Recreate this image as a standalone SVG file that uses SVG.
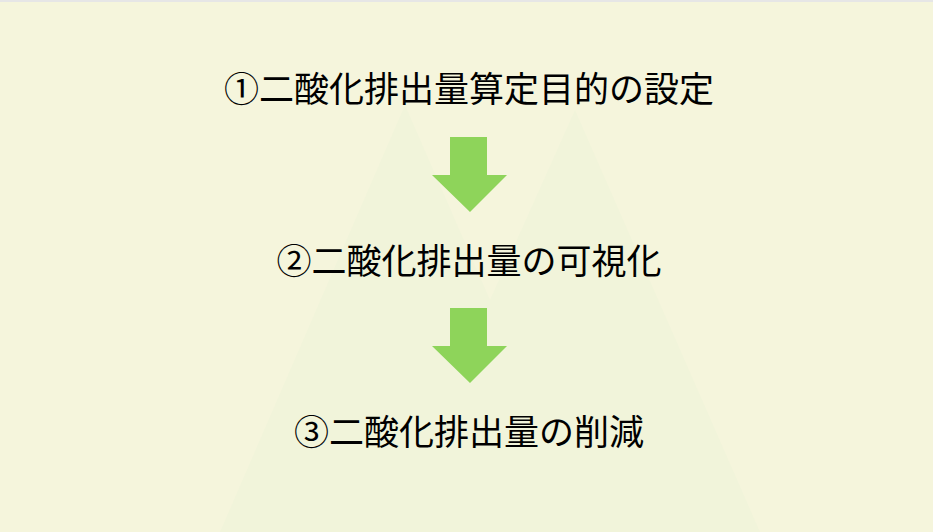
<svg xmlns="http://www.w3.org/2000/svg" width="933" height="532" viewBox="0 0 933 532">
<style>
.t{font-family:"Noto Sans CJK JP","Noto Sans CJK SC",sans-serif;font-size:35px;fill:#000;text-anchor:middle}
.a{fill:#8ed45a}
.m{fill:#f1f4da}
</style>
<rect width="933" height="532" fill="#f5f5dc"/>
<rect width="933" height="2" fill="#e6e6e6"/>
<polygon class="m" points="220,532 405,105 490,300 575,110 760,532"/>
<g id="n1"><text class="t" x="469" y="102">①二酸化排出量算定目的の設定</text></g>
<g id="n2"><text class="t" x="469" y="274">②二酸化排出量の可視化</text></g>
<g id="n3"><text class="t" x="469" y="445">③二酸化排出量の削減</text></g>
<g id="connectors">
<polygon class="a" points="450,137 487,137 487,175 507,175 470,212 432,175 450,175"/>
<polygon class="a" points="450,308 487,308 487,346 507,346 470,383 432,346 450,346"/>
</g>
</svg>
